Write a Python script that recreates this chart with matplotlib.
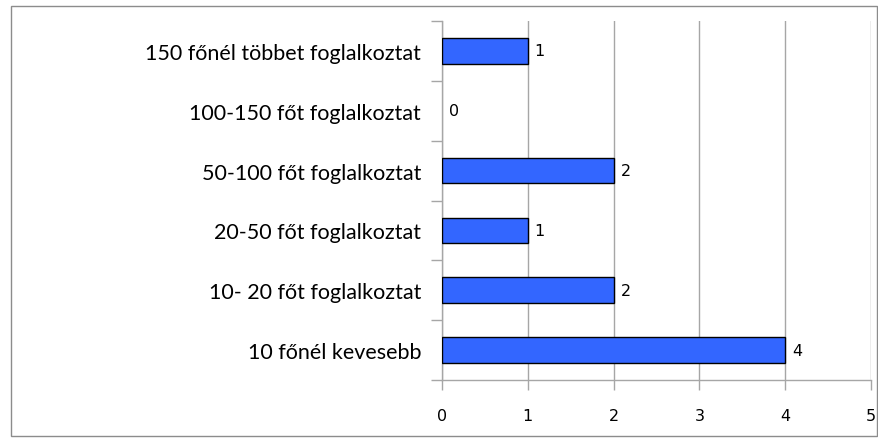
import matplotlib
matplotlib.use("Agg")
import matplotlib.pyplot as plt
from matplotlib.patches import Rectangle

categories = [
    "10 főnél kevesebb",
    "10- 20 főt foglalkoztat",
    "20-50 főt foglalkoztat",
    "50-100 főt foglalkoztat",
    "100-150 főt foglalkoztat",
    "150 főnél többet foglalkoztat",
]
values = [4, 2, 1, 2, 0, 1]
x_ticks = [0, 1, 2, 3, 4, 5]

W, H = 879, 439
fig = plt.figure(figsize=(W / 100, H / 100), dpi=100)
fig.patch.set_facecolor("white")

# outer chart frame
fig.add_artist(Rectangle((11 / W, 2 / H), 866 / W, 430 / H, transform=fig.transFigure,
                         fill=False, edgecolor="#8c8c8c", linewidth=1.0))

left, right = 442 / W, 871 / W
bottom, top = 1 - 381 / H, 1 - 22 / H
ax = fig.add_axes([left, bottom, right - left, top - bottom])

y = list(range(len(categories)))
edges = ["black" if v > 0 else "none" for v in values]
ax.barh(y, values, height=0.43, color="#3366ff", edgecolor=edges, linewidth=1.0, zorder=3)

for yi, v in zip(y, values):
    ax.text(v + 0.08, yi, str(v), va="center", ha="left", fontsize=11.5,
            family="DejaVu Sans", color="black", zorder=4)

ax.set_xlim(0, 5)
ax.set_ylim(-0.5, len(categories) - 0.5)
ax.set_xticks(x_ticks)
ax.set_xticklabels([str(t) for t in x_ticks], fontsize=11.5, family="DejaVu Sans")
ax.set_yticks(y)
ax.set_yticklabels(categories, fontsize=15.5, family="Lato")
ax.set_yticks([i - 0.5 for i in range(len(categories) + 1)], minor=True)

ax.grid(axis="x", color="#a6a6a6", linewidth=1.0, zorder=0)
for s in ["top", "right"]:
    ax.spines[s].set_visible(False)
for s in ["left", "bottom"]:
    ax.spines[s].set_color("#a6a6a6")
    ax.spines[s].set_linewidth(1.0)

ax.tick_params(axis="y", which="major", length=0, pad=15)
ax.tick_params(axis="y", which="minor", length=8, color="#a6a6a6", width=1.0)
ax.tick_params(axis="x", length=7, color="#a6a6a6", width=1.0, pad=13)

fig.savefig("out.png", dpi=100)
